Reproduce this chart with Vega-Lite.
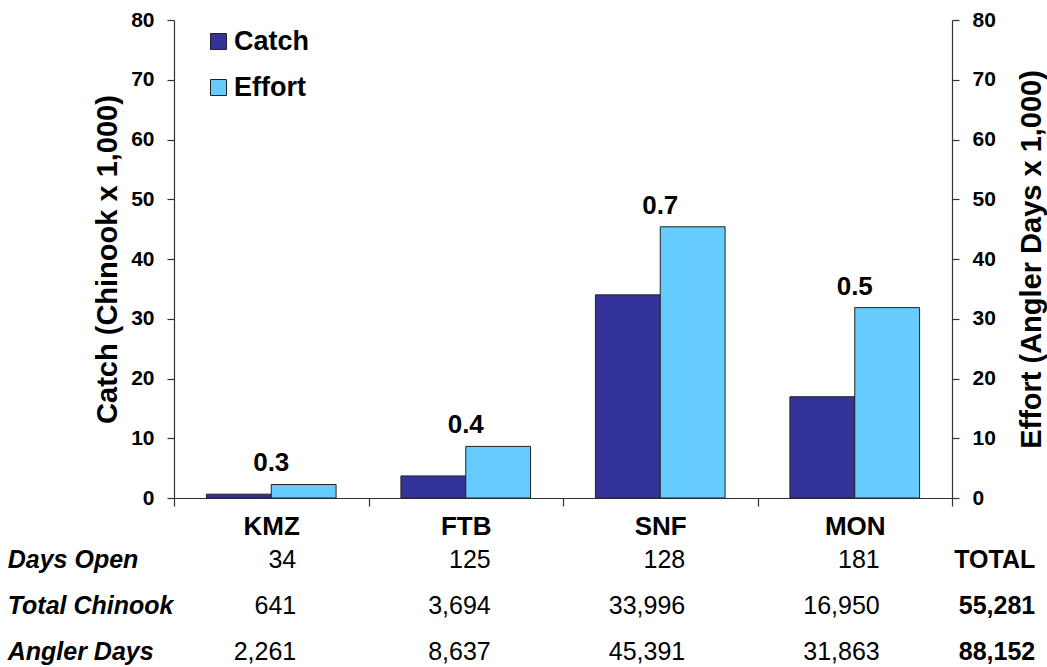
{
  "$schema": "https://vega.github.io/schema/vega-lite/v6.json",
  "width": 778,
  "height": 478,
  "autosize": {"type": "none"},
  "padding": {"left": 174, "top": 20, "right": 95, "bottom": 169},
  "background": "white",
  "config": {
    "font": "Liberation Sans",
    "view": {"stroke": null},
    "axis": {
      "labelFont": "Liberation Sans",
      "labelFontSize": 21,
      "labelFontWeight": "bold",
      "labelColor": "black",
      "titleFont": "Liberation Sans",
      "titleFontSize": 29,
      "titleFontWeight": "bold",
      "titleColor": "black",
      "domainColor": "#333333",
      "tickColor": "#333333",
      "domainWidth": 1.2,
      "tickWidth": 1.2,
      "tickSize": 7,
      "labelPadding": 13,
      "grid": false
    },
    "text": {"font": "Liberation Sans", "color": "black"}
  },
  "datasets": {
    "bars": [
      {"site": "KMZ", "series": "Catch", "value": 0.641},
      {"site": "KMZ", "series": "Effort", "value": 2.261},
      {"site": "FTB", "series": "Catch", "value": 3.694},
      {"site": "FTB", "series": "Effort", "value": 8.637},
      {"site": "SNF", "series": "Catch", "value": 33.996},
      {"site": "SNF", "series": "Effort", "value": 45.391},
      {"site": "MON", "series": "Catch", "value": 16.95},
      {"site": "MON", "series": "Effort", "value": 31.863}
    ],
    "ratios": [
      {"site": "KMZ", "effort": 2.261, "ratio": 0.3},
      {"site": "FTB", "effort": 8.637, "ratio": 0.4},
      {"site": "SNF", "effort": 45.391, "ratio": 0.7},
      {"site": "MON", "effort": 31.863, "ratio": 0.5}
    ],
    "rowlabels": [
      {"row": "Days Open"},
      {"row": "Total Chinook"},
      {"row": "Angler Days"}
    ],
    "cells": [
      {"row": "Days Open", "site": "KMZ", "value": 34},
      {"row": "Days Open", "site": "FTB", "value": 125},
      {"row": "Days Open", "site": "SNF", "value": 128},
      {"row": "Days Open", "site": "MON", "value": 181},
      {"row": "Total Chinook", "site": "KMZ", "value": 641},
      {"row": "Total Chinook", "site": "FTB", "value": 3694},
      {"row": "Total Chinook", "site": "SNF", "value": 33996},
      {"row": "Total Chinook", "site": "MON", "value": 16950},
      {"row": "Angler Days", "site": "KMZ", "value": 2261},
      {"row": "Angler Days", "site": "FTB", "value": 8637},
      {"row": "Angler Days", "site": "SNF", "value": 45391},
      {"row": "Angler Days", "site": "MON", "value": 31863}
    ],
    "totals": [
      {"row": "Days Open", "text": "TOTAL"},
      {"row": "Total Chinook", "text": "55,281"},
      {"row": "Angler Days", "text": "88,152"}
    ]
  },
  "layer": [
    {
      "layer": [
        {
          "data": {"name": "bars"},
          "mark": {"type": "bar", "stroke": "#222222", "strokeWidth": 1},
          "encoding": {
            "x": {
              "field": "site",
              "type": "nominal",
              "sort": ["KMZ", "FTB", "SNF", "MON"],
              "scale": {"paddingInner": 0, "paddingOuter": 0},
              "axis": {
                "title": null,
                "labelAngle": 0,
                "tickBand": "extent",
                "labelFontSize": 26,
                "tickSize": 8,
                "labelPadding": 7
              }
            },
            "xOffset": {
              "field": "series",
              "sort": ["Catch", "Effort"],
              "scale": {"paddingInner": 0, "paddingOuter": 0.5}
            },
            "y": {
              "field": "value",
              "type": "quantitative",
              "scale": {"domain": [0, 80], "nice": false},
              "axis": {
                "title": "Catch (Chinook x 1,000)",
                "values": [0, 10, 20, 30, 40, 50, 60, 70, 80],
                "titlePadding": 8
              }
            },
            "color": {
              "field": "series",
              "type": "nominal",
              "scale": {"domain": ["Catch", "Effort"], "range": ["#333399", "#66CCFF"]},
              "legend": {
                "orient": "none",
                "legendX": 31,
                "legendY": 8,
                "title": null,
                "symbolType": "square",
                "symbolSize": 256,
                "symbolStrokeColor": "#222222",
                "symbolStrokeWidth": 1,
                "labelFontSize": 27,
                "labelFontWeight": "bold",
                "labelColor": "black",
                "labelFont": "Liberation Sans",
                "labelOffset": 2,
                "rowPadding": 18
              }
            }
          }
        },
        {
          "data": {"name": "ratios"},
          "mark": {"type": "text", "fontSize": 26, "fontWeight": "bold", "baseline": "alphabetic", "dy": -13},
          "encoding": {
            "x": {"field": "site", "type": "nominal", "sort": ["KMZ", "FTB", "SNF", "MON"]},
            "y": {
              "field": "effort",
              "type": "quantitative",
              "scale": {"domain": [0, 80], "nice": false},
              "axis": {
                "orient": "right",
                "title": "Effort (Angler Days x 1,000)",
                "titleAngle": 270,
                "titleBaseline": "top",
                "titlePadding": 22,
                "values": [0, 10, 20, 30, 40, 50, 60, 70, 80]
              }
            },
            "text": {"field": "ratio", "type": "quantitative", "format": ".1f"}
          }
        }
      ],
      "resolve": {"scale": {"y": "independent"}}
    },
    {
      "layer": [
        {
          "data": {"name": "rowlabels"},
          "mark": {"type": "text", "fontSize": 25, "fontWeight": "bold", "fontStyle": "italic", "align": "left", "baseline": "alphabetic", "dx": -69},
          "encoding": {
            "x": {
              "datum": "label",
              "type": "nominal",
              "scale": {"type": "point", "domain": ["label", "KMZ", "FTB", "SNF", "MON", "TOTAL"], "range": [-97.25, 875.25], "padding": 0},
              "axis": null
            },
            "y": {
              "field": "row",
              "type": "nominal",
              "scale": {"type": "point", "domain": ["Days Open", "Total Chinook", "Angler Days"], "range": [548, 640], "padding": 0},
              "axis": null
            },
            "text": {"field": "row", "type": "nominal"}
          }
        },
        {
          "data": {"name": "cells"},
          "mark": {"type": "text", "fontSize": 25, "align": "right", "baseline": "alphabetic", "dx": 25},
          "encoding": {
            "x": {"field": "site", "type": "nominal", "axis": null},
            "y": {"field": "row", "type": "nominal", "axis": null},
            "text": {"field": "value", "type": "quantitative", "format": ","}
          }
        },
        {
          "data": {"name": "totals"},
          "mark": {"type": "text", "fontSize": 25, "fontWeight": "bold", "align": "right", "baseline": "alphabetic", "dx": -14},
          "encoding": {
            "x": {"datum": "TOTAL", "type": "nominal", "axis": null},
            "y": {"field": "row", "type": "nominal", "axis": null},
            "text": {"field": "text", "type": "nominal"}
          }
        }
      ]
    }
  ],
  "resolve": {"scale": {"x": "independent", "y": "independent"}}
}
